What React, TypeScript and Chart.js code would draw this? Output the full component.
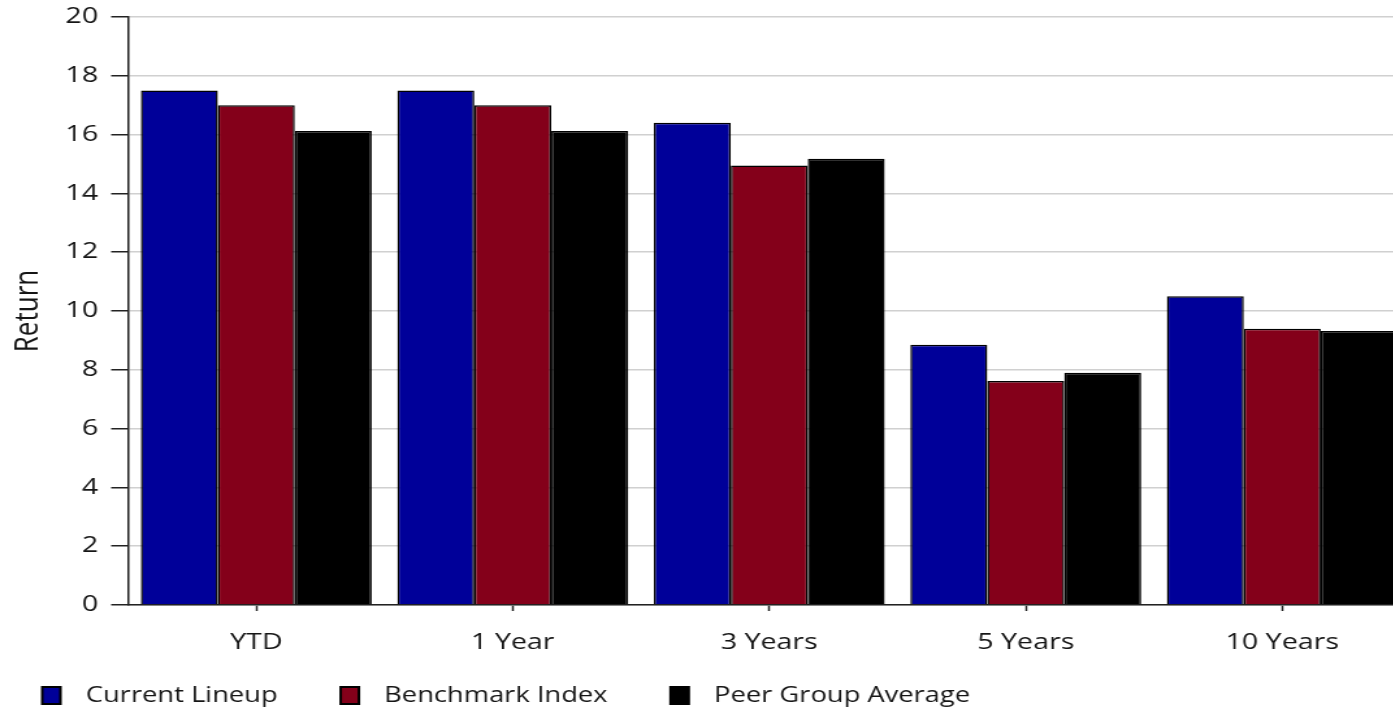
import React, { useEffect, useRef } from "react";
import { Chart, registerables } from "chart.js";

Chart.register(...registerables);

const categories = ["YTD", "1 Year", "3 Years", "5 Years", "10 Years"];
const seriesNames = ["Current Lineup", "Benchmark Index", "Peer Group Average"];
const currentLineup = [17.5, 17.5, 16.4, 8.85, 10.5];
const benchmarkIndex = [17.0, 17.0, 14.95, 7.62, 9.4];
const peerGroupAverage = [16.12, 16.12, 15.18, 7.9, 9.32];
const seriesColors = ["#000099", "#84001a", "#000000"];
const yTicks = [0, 2, 4, 6, 8, 10, 12, 14, 16, 18, 20];

const STRETCH = 1.3;
const FONT = "'Open Sans', 'Noto Sans', sans-serif";
const TEXT = "#151515";

// legend swatch drawn as an image: square sits in the right part of the image
function makeSwatch(color: string) {
  const c = document.createElement("canvas");
  c.width = 49;
  c.height = 20;
  const ctx = c.getContext("2d")!;
  ctx.fillStyle = "#000";
  ctx.fillRect(31, 0, 16, 19);
  ctx.fillStyle = color;
  ctx.fillRect(33, 2, 12, 15);
  return c;
}

export default function App() {
  const ref = useRef<HTMLCanvasElement>(null);

  useEffect(() => {
    if (!ref.current) return;
    const swatches = seriesColors.map(makeSwatch);
    const values = [currentLineup, benchmarkIndex, peerGroupAverage];
    const chart = new Chart(ref.current, {
      type: "bar",
      data: {
        labels: categories,
        datasets: seriesNames.map((name, i) => ({
          label: name,
          data: values[i],
          backgroundColor: seriesColors[i],
          borderColor: "#000",
          borderWidth: 1.5,
          categoryPercentage: 0.9,
          barPercentage: 1.0,
        })),
      },
      options: {
        animation: false,
        responsive: false,
        maintainAspectRatio: false,
        layout: { padding: { top: 17, right: 7, left: -16, bottom: 0 } },
        plugins: {
          tooltip: { enabled: false },
          legend: {
            position: "bottom",
            align: "start",
            maxHeight: 34,
            labels: {
              usePointStyle: true,
              pointStyleWidth: 61,
              boxHeight: 20,
              padding: 10.5,
              color: TEXT,
              font: { family: FONT, size: 21 },
              generateLabels: (ch: any) => {
                const items = Chart.defaults.plugins.legend.labels.generateLabels(ch);
                return items.map((it: any, i: number) => ({ ...it, pointStyle: swatches[i] }));
              },
            },
          },
        },
        scales: {
          x: {
            grid: {
              display: true,
              drawOnChartArea: false,
              drawTicks: true,
              tickLength: 6,
              tickColor: "#222",
              tickWidth: 1.5,
              offset: false,
            },
            border: { display: true, color: "#222", width: 1.5 },
            ticks: {
              color: TEXT,
              padding: 19,
              maxRotation: 0,
              font: { family: FONT, size: 22 },
            },
            afterFit: (s: any) => {
              s.height = 70;
            },
          },
          y: {
            min: 0,
            max: 20,
            afterBuildTicks: (s: any) => {
              s.ticks = yTicks.map((v) => ({ value: v }));
            },
            grid: {
              color: "#d0d0d0",
              lineWidth: 1.5,
              tickLength: 13,
              tickColor: "#222",
              tickWidth: 1.5,
            },
            border: { display: true, color: "#222", width: 1.5 },
            ticks: {
              color: TEXT,
              padding: 10,
              font: { family: FONT, size: 22 },
            },
            title: {
              display: true,
              text: "Return",
              color: TEXT,
              padding: { top: 22, bottom: 0 },
              font: { family: FONT, size: 26 },
            },
            afterFit: (s: any) => {
              s.width = 114.5;
              s.paddingTop = 0;
              s.paddingBottom = 0;
            },
          },
        },
      },
    });
    return () => chart.destroy();
  }, []);

  return (
    <div
      style={{
        position: "absolute",
        left: 0,
        top: 0,
        width: 1393,
        height: 709,
        overflow: "hidden",
        background: "#fff",
      }}
    >
      <div
        style={{
          width: 1092,
          height: 709,
          transform: `scaleX(${STRETCH})`,
          transformOrigin: "0 0",
        }}
      >
        <canvas ref={ref} width={1092} height={709} style={{ display: "block" }} />
      </div>
    </div>
  );
}
